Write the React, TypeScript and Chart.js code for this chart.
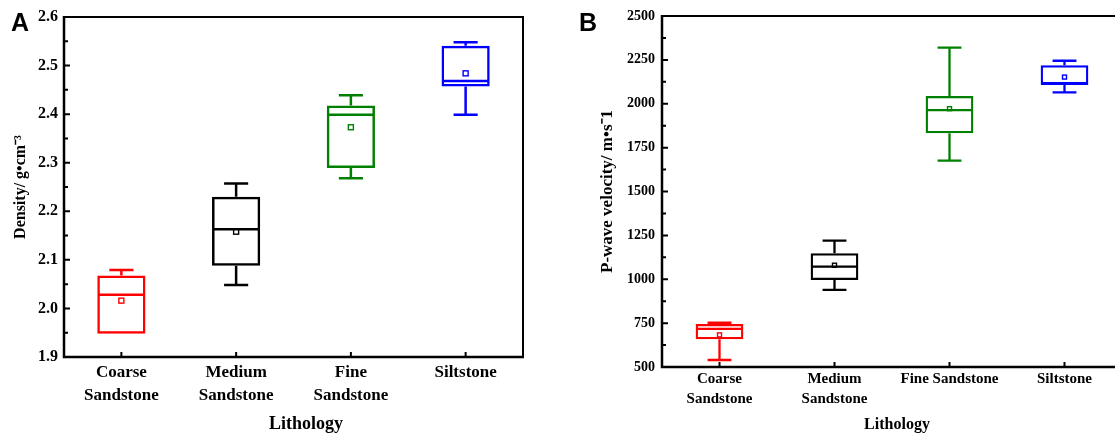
import React, { useEffect, useRef } from 'react';
import { Chart, registerables } from 'chart.js';

Chart.register(...registerables);

const SERIF = "'Liberation Serif', 'Times New Roman', Times, serif";
const SANS = "'Liberation Sans', Arial, Helvetica, sans-serif";

// ---------------- data ----------------
const lithologyA = [['Coarse', 'Sandstone'], ['Medium', 'Sandstone'], ['Fine', 'Sandstone'], 'Siltstone'];
const lithologyB = [['Coarse', 'Sandstone'], ['Medium', 'Sandstone'], 'Fine Sandstone', 'Siltstone'];
const boxColors = ['#ff0000', '#000000', '#008000', '#0000ff'];

// Panel A: density (g·cm^-3)
const densityMin = [1.948, 2.048, 2.268, 2.399];
const densityQ1 = [1.948, 2.088, 2.289, 2.457];
const densityMedian = [2.028, 2.163, 2.399, 2.468];
const densityQ3 = [2.068, 2.23, 2.418, 2.541];
const densityMax = [2.079, 2.257, 2.439, 2.548];
const densityMean = [2.016, 2.158, 2.373, 2.484];
const densityTicks = [1.9, 2.0, 2.1, 2.2, 2.3, 2.4, 2.5, 2.6];

// Panel B: P-wave velocity (m·s^-1)
const velocityMin = [540, 939, 1676, 2065];
const velocityQ1 = [658, 996, 1832, 2107];
const velocityMedian = [717, 1072, 1964, 2118];
const velocityQ3 = [745, 1148, 2044, 2219];
const velocityMax = [752, 1220, 2320, 2245];
const velocityMean = [683, 1080, 1972, 2152];
const velocityTicks = [500, 750, 1000, 1250, 1500, 1750, 2000, 2250, 2500];

// ---------------- layout specs ----------------
interface PanelSpec {
  labels: any[];
  min: number[]; q1: number[]; median: number[]; q3: number[]; max: number[]; mean: number[];
  ticks: number[]; decimals: number;
  yTitle: string; xTitle: string;
  width: number; height: number; canvasLeft: number;
  plotLeft: number; plotRight: number; plotTop: number; plotBottom: number;
  yTickFont: number; yTickPad: number; yTitleFont: number; yTitlePad: number;
  xTickFont: number; xTickLine: number; xTickPad: number;
  xTitleFont: number; xTitleX: number; xTitleY: number;
  markSize: number; barPct: number; lineW: number;
}

const panelA: PanelSpec = {
  labels: lithologyA,
  min: densityMin, q1: densityQ1, median: densityMedian, q3: densityQ3, max: densityMax, mean: densityMean,
  ticks: densityTicks, decimals: 1,
  yTitle: 'Density/ g•cm⁻³', xTitle: 'Lithology',
  width: 545, height: 435, canvasLeft: 0,
  plotLeft: 64, plotRight: 523, plotTop: 17, plotBottom: 357,
  yTickFont: 16, yTickPad: 6, yTitleFont: 16, yTitlePad: 11.5,
  xTickFont: 17, xTickLine: 23, xTickPad: 4,
  xTitleFont: 18, xTitleX: 306, xTitleY: 424,
  markSize: 5, barPct: 0.42, lineW: 2.5,
};

const panelB: PanelSpec = {
  labels: lithologyB,
  min: velocityMin, q1: velocityQ1, median: velocityMedian, q3: velocityQ3, max: velocityMax, mean: velocityMean,
  ticks: velocityTicks, decimals: 0,
  yTitle: 'P-wave velocity/ m•s⁻1', xTitle: 'Lithology',
  width: 600, height: 435, canvasLeft: 545,
  plotLeft: 117, plotRight: 577, plotTop: 16, plotBottom: 367,
  yTickFont: 14, yTickPad: 7, yTitleFont: 17, yTitlePad: 52,
  xTickFont: 15, xTickLine: 20, xTickPad: 2,
  xTitleFont: 16, xTitleX: 352, xTitleY: 425,
  markSize: 4, barPct: 0.415, lineW: 2.3,
};

function boxPlugin(spec: PanelSpec) {
  return {
    id: 'boxExtras',
    afterDatasetsDraw(chart: any) {
      const ctx = chart.ctx;
      const xs = chart.scales.x;
      const ys = chart.scales.y;
      const meta = chart.getDatasetMeta(0);
      const py = (v: number) => ys.getPixelForValue(v);
      ctx.save();
      ctx.lineCap = 'butt';
      spec.labels.forEach((_: any, i: number) => {
        const el: any = meta.data[i];
        const cx = xs.getPixelForValue(i);
        const half = el.width / 2;
        const cap = el.width / 4;
        ctx.strokeStyle = boxColors[i];
        ctx.lineWidth = spec.lineW;
        ctx.beginPath();
        if (spec.max[i] > spec.q3[i]) {
          ctx.moveTo(cx, py(spec.q3[i]));
          ctx.lineTo(cx, py(spec.max[i]));
        }
        if (spec.min[i] < spec.q1[i]) {
          ctx.moveTo(cx, py(spec.q1[i]));
          ctx.lineTo(cx, py(spec.min[i]));
        }
        ctx.moveTo(cx - cap, py(spec.max[i]));
        ctx.lineTo(cx + cap, py(spec.max[i]));
        if (spec.min[i] < spec.q1[i]) {
          ctx.moveTo(cx - cap, py(spec.min[i]));
          ctx.lineTo(cx + cap, py(spec.min[i]));
        }
        ctx.moveTo(cx - half + 1, py(spec.median[i]));
        ctx.lineTo(cx + half - 1, py(spec.median[i]));
        ctx.stroke();
        const s = spec.markSize;
        ctx.lineWidth = 1.4;
        ctx.strokeRect(cx - s / 2, py(spec.mean[i]) - s / 2, s, s);
      });
      ctx.restore();
    },
    afterDraw(chart: any) {
      const ctx = chart.ctx;
      const xs = chart.scales.x;
      const ys = chart.scales.y;
      const { left, right, top, bottom } = chart.chartArea;
      ctx.save();
      ctx.strokeStyle = '#000';
      ctx.lineWidth = 2;
      ctx.beginPath();
      ctx.moveTo(left, top);
      ctx.lineTo(right, top);
      ctx.lineTo(right, bottom);
      ctx.stroke();
      ctx.lineWidth = 2.5;
      ctx.beginPath();
      ctx.moveTo(left, top - 1);
      ctx.lineTo(left, bottom);
      ctx.lineTo(right + 1, bottom);
      ctx.stroke();
      ctx.lineWidth = 2;
      ctx.beginPath();
      spec.ticks.forEach((v, k) => {
        const y = ys.getPixelForValue(v);
        ctx.moveTo(left, y);
        ctx.lineTo(left + 6, y);
        if (k < spec.ticks.length - 1) {
          const ym = ys.getPixelForValue((v + spec.ticks[k + 1]) / 2);
          ctx.moveTo(left, ym);
          ctx.lineTo(left + 4, ym);
        }
      });
      spec.labels.forEach((_: any, i: number) => {
        const x = xs.getPixelForValue(i);
        ctx.moveTo(x, bottom);
        ctx.lineTo(x, bottom - 5);
      });
      ctx.stroke();
      ctx.fillStyle = '#000';
      ctx.font = `bold ${spec.xTitleFont}px ${SERIF}`;
      ctx.textAlign = 'center';
      ctx.textBaseline = 'middle';
      ctx.fillText(spec.xTitle, spec.xTitleX, spec.xTitleY);
      ctx.restore();
    },
  };
}

function buildConfig(spec: PanelSpec): any {
  return {
    type: 'bar',
    data: {
      labels: spec.labels,
      datasets: [
        {
          data: spec.labels.map((_: any, i: number) => [spec.q1[i], spec.q3[i]]),
          backgroundColor: 'rgba(0,0,0,0)',
          borderColor: boxColors,
          borderWidth: spec.lineW,
          borderSkipped: false,
          inflateAmount: 0,
          barPercentage: spec.barPct,
          categoryPercentage: 1,
        },
      ],
    },
    options: {
      animation: false,
      responsive: false,
      maintainAspectRatio: false,
      devicePixelRatio: 1,
      layout: {
        padding: { left: 0, top: spec.plotTop, right: spec.width - spec.plotRight, bottom: 0 },
      },
      plugins: { legend: { display: false }, tooltip: { enabled: false }, title: { display: false } },
      scales: {
        x: {
          type: 'category',
          offset: true,
          grid: { display: false, drawTicks: false },
          border: { display: false },
          ticks: {
            color: '#000',
            autoSkip: false,
            maxRotation: 0,
            minRotation: 0,
            padding: spec.xTickPad,
            font: { family: SERIF, size: spec.xTickFont, weight: 'bold', lineHeight: spec.xTickLine / spec.xTickFont },
          },
          title: { display: false },
          afterFit: (s: any) => { s.height = spec.height - spec.plotBottom; },
        },
        y: {
          type: 'linear',
          min: spec.ticks[0],
          max: spec.ticks[spec.ticks.length - 1],
          grid: { display: false, drawTicks: false },
          border: { display: false },
          afterBuildTicks: (s: any) => { s.ticks = spec.ticks.map((v) => ({ value: v })); },
          ticks: {
            color: '#000',
            padding: spec.yTickPad,
            font: { family: SERIF, size: spec.yTickFont, weight: 'bold' },
            callback: (v: any) => Number(v).toFixed(spec.decimals),
          },
          title: {
            display: true,
            text: spec.yTitle,
            color: '#000',
            font: { family: SERIF, size: spec.yTitleFont, weight: 'bold' },
            padding: { top: spec.yTitlePad, bottom: 0 },
          },
          afterFit: (s: any) => { s.width = spec.plotLeft; },
        },
      },
    },
    plugins: [boxPlugin(spec)],
  };
}

function Panel({ spec }: { spec: PanelSpec }) {
  const ref = useRef<HTMLCanvasElement>(null);
  useEffect(() => {
    const chart = new Chart(ref.current as HTMLCanvasElement, buildConfig(spec));
    return () => chart.destroy();
  }, [spec]);
  return (
    <canvas
      ref={ref}
      width={spec.width}
      height={spec.height}
      style={{ position: 'absolute', left: spec.canvasLeft, top: 0, width: spec.width, height: spec.height, display: 'block' }}
    />
  );
}

const letterStyle: React.CSSProperties = {
  position: 'absolute',
  top: 10,
  font: `bold 25px ${SANS}`,
  lineHeight: '25px',
  color: '#000',
};

export default function App() {
  return (
    <div
      style={{
        position: 'fixed',
        left: 0,
        top: 0,
        width: 1115,
        height: 435,
        overflow: 'hidden',
        background: '#fff',
      }}
    >
      <Panel spec={panelA} />
      <Panel spec={panelB} />
      <div style={{ ...letterStyle, left: 11 }}>A</div>
      <div style={{ ...letterStyle, left: 579 }}>B</div>
    </div>
  );
}
